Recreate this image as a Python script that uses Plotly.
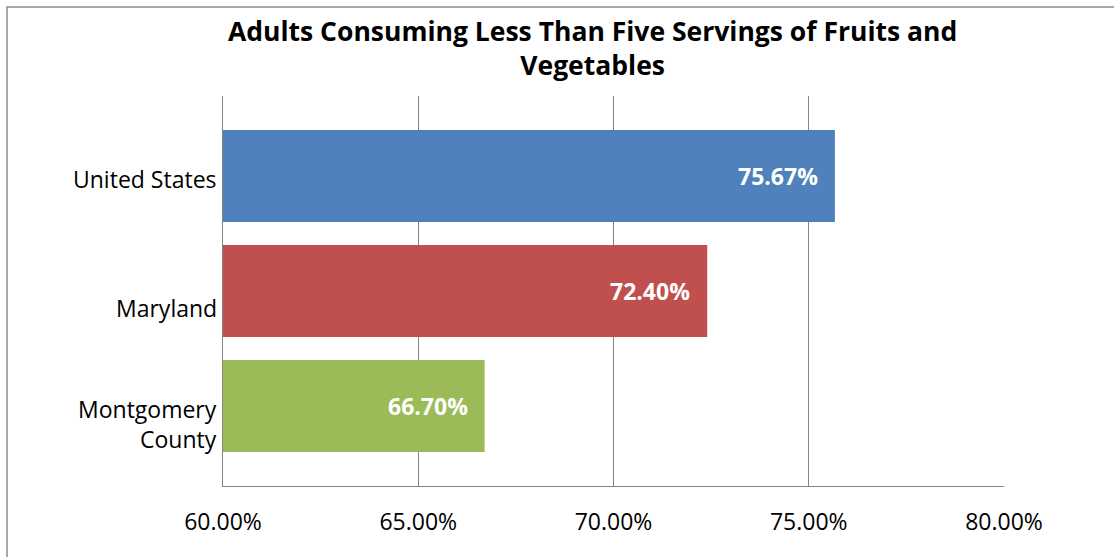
import plotly.graph_objects as go

# Share of adults eating fewer than five servings of fruits and vegetables per day
regions = ["United States", "Maryland", "Montgomery<br>County"]
shares = [0.7567, 0.7240, 0.6670]
bar_colors = ["#4F81BD", "#C0504D", "#9BBB59"]
x_ticks = [0.60, 0.65, 0.70, 0.75, 0.80]
x_tick_labels = ["60.00%", "65.00%", "70.00%", "75.00%", "80.00%"]
title_text = "Adults Consuming Less Than Five Servings of Fruits and<br>Vegetables"

FONT = "Open Sans"
GRID = "#848484"

# plot-area geometry in pixels (used to place the title and border)
L, R, T, B = 223, 1004, 96, 486

# vertical nudges (px) for the category captions beside the axis
caption_shift = [-3, -17, -18]

fig = go.Figure()
fig.add_trace(go.Bar(
    y=regions,
    x=shares,
    orientation="h",
    marker=dict(color=bar_colors, line=dict(width=0)),
    width=0.8,
    hoverinfo="skip",
))

# value labels inside the end of each bar
for region, val in zip(regions, shares):
    fig.add_annotation(
        x=val, y=region, xref="x", yref="y",
        text=f"<b>{val * 100:.2f}%</b>",
        showarrow=False, xanchor="right", yanchor="middle",
        xshift=-15,
        font=dict(family=FONT, size=23, color="white"),
    )

# category captions to the left of the axis
for region, dy in zip(regions, caption_shift):
    fig.add_annotation(
        x=0, y=region, xref="paper", yref="y",
        text=region, showarrow=False,
        xanchor="right", yanchor="middle", align="right",
        xshift=-4, yshift=dy,
        font=dict(family=FONT, size=23, color="black"),
    )

# chart title
fig.add_annotation(
    x=(592 - L) / (R - L), y=(B - 11) / (B - T),
    xref="paper", yref="paper",
    text=f"<b>{title_text}</b>",
    showarrow=False, xanchor="center", yanchor="top",
    align="center",
    font=dict(family=FONT, size=26.5, color="black"),
)

# outer chart border
fig.add_shape(
    type="rect", xref="paper", yref="paper",
    x0=(7 - L) / (R - L), x1=1.5, y0=-0.5, y1=(B - 7) / (B - T),
    line=dict(color="#8C8C8C", width=1.5), fillcolor="rgba(0,0,0,0)",
    layer="below",
)

fig.update_layout(
    width=1114, height=557,
    margin=dict(l=L, r=1114 - R, t=T, b=557 - B),
    paper_bgcolor="white", plot_bgcolor="white",
    showlegend=False,
    bargap=0.2,
    xaxis=dict(
        range=[0.60, 0.80],
        tickvals=x_ticks, ticktext=x_tick_labels,
        showgrid=True, gridcolor=GRID, gridwidth=1,
        showline=True, linecolor=GRID, linewidth=1,
        zeroline=False, ticks="",
        ticklabelstandoff=15,
        tickfont=dict(family=FONT, size=23, color="black"),
        fixedrange=True,
    ),
    yaxis=dict(
        categoryorder="array",
        categoryarray=list(reversed(regions)),
        range=[-0.696, 2.696],
        showgrid=False,
        showline=True, linecolor=GRID, linewidth=1,
        ticks="", showticklabels=False,
        fixedrange=True,
    ),
)

fig.write_html("out.html")
